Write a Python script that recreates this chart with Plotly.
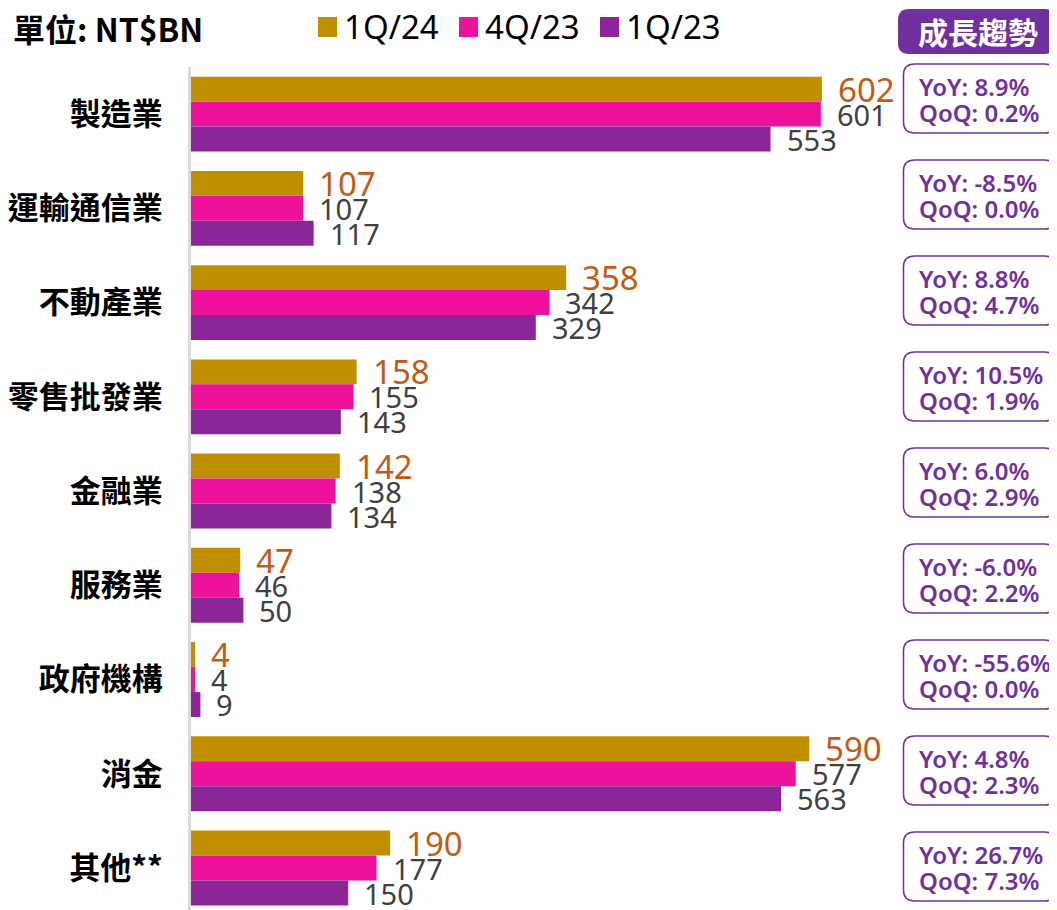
import plotly.graph_objects as go

categories = ["製造業", "運輸通信業", "不動產業", "零售批發業", "金融業", "服務業", "政府機構", "消金", "其他**"]
series_names = ["1Q/24", "4Q/23", "1Q/23"]
q1_24 = [602, 107, 358, 158, 142, 47, 4, 590, 190]
q4_23 = [601, 107, 342, 155, 138, 46, 4, 577, 177]
q1_23 = [553, 117, 329, 143, 134, 50, 9, 563, 150]
yoy = ["8.9%", "-8.5%", "8.8%", "10.5%", "6.0%", "-6.0%", "-55.6%", "4.8%", "26.7%"]
qoq = ["0.2%", "0.0%", "4.7%", "1.9%", "2.9%", "2.2%", "0.0%", "2.3%", "7.3%"]
unit_label = "單位: NT$BN"
trend_label = "成長趨勢"

colors = ["#BF8F00", "#EE1199", "#8B2699"]
label_colors = ["#C55A11", "#404040", "#404040"]
purple = "#7030A0"
LAT = "Noto Sans, Noto Sans CJK TC, sans-serif"
CJK = "Noto Sans CJK TC, Noto Sans, sans-serif"

OFF = 8  # page body margin
W_PX, H_PX = 1057 - OFF, 910 - OFF
L, T, R, B = 191 - OFF, 67 - OFF, 0, 0
PW = W_PX - L - R
PH = H_PX - T - B
BARGAP = 0.205
bw = (1 - BARGAP) / 3
PX_PER_UNIT = 1.048
GROUP_PX = 94.24


def px_x(px):
    return (px - OFF - L) / PW


def px_y(py):
    return (H_PX - B - (py - OFF)) / PH


def rrect(x0, y0, x1, y1, r):
    X0, X1 = px_x(x0), px_x(x1)
    Y0, Y1 = px_y(y0), px_y(y1)
    rx, ry = r / PW, r / PH
    return (f"M {X0+rx},{Y0} L {X1-rx},{Y0} Q {X1},{Y0} {X1},{Y0-ry} "
            f"L {X1},{Y1+ry} Q {X1},{Y1} {X1-rx},{Y1} L {X0+rx},{Y1} "
            f"Q {X0},{Y1} {X0},{Y1+ry} L {X0},{Y0-ry} Q {X0},{Y0} {X0+rx},{Y0} Z")


all_series = [q1_24, q4_23, q1_23]
fig = go.Figure()
for name, vals, col in zip(series_names, all_series, colors):
    fig.add_trace(go.Bar(
        y=categories, x=vals, orientation="h", name=name,
        marker=dict(color=col, line=dict(width=0)), showlegend=False,
    ))

annotations = []
for k, vals in enumerate(all_series):
    for i, v in enumerate(vals):
        annotations.append(dict(
            x=v, y=i + (k - 1) * bw, xref="x", yref="y", text=str(v),
            showarrow=False, xanchor="left", yanchor="middle", xshift=14,
            font=dict(family=LAT, size=33 if k == 0 else 29, color=label_colors[k]),
        ))

shapes = []
annotations.append(dict(x=px_x(11), y=px_y(28), xref="paper", yref="paper", text=f"<b>{unit_label}</b>",
                        showarrow=False, xanchor="left", yanchor="middle",
                        font=dict(family=CJK, size=32, color="black")))
leg_sq = [318, 459, 600]
for name, col, sx in zip(series_names, colors, leg_sq):
    shapes.append(dict(type="rect", xref="paper", yref="paper", x0=px_x(sx), x1=px_x(sx + 19),
                       y0=px_y(37), y1=px_y(17), fillcolor=col, line=dict(width=0)))
    annotations.append(dict(x=px_x(sx + 24), y=px_y(27), xref="paper", yref="paper", text=name,
                            showarrow=False, xanchor="left", yanchor="middle",
                            font=dict(family=LAT, size=33, color="black")))
shapes.append(dict(type="path", xref="paper", yref="paper", path=rrect(898, 9, 1056, 54, 11),
                   fillcolor=purple, line=dict(width=0)))
annotations.append(dict(x=px_x(978), y=px_y(31), xref="paper", yref="paper", text=f"<b>{trend_label}</b>",
                        showarrow=False, xanchor="center", yanchor="middle",
                        font=dict(family=CJK, size=30, color="white")))
for i in range(len(categories)):
    cy = 98.5 + 96 * i
    shapes.append(dict(type="path", xref="paper", yref="paper", path=rrect(903.5, cy - 34.5, 1055.5, cy + 34.5, 11),
                       fillcolor="white", line=dict(color=purple, width=1.5)))
    annotations.append(dict(x=px_x(917), y=px_y(cy - 12.5), xref="paper", yref="paper", text=f"YoY: {yoy[i]}",
                            showarrow=False, xanchor="left", yanchor="middle",
                            font=dict(family=LAT, size=24, color=purple, weight=600)))
    annotations.append(dict(x=px_x(917), y=px_y(cy + 14), xref="paper", yref="paper", text=f"QoQ: {qoq[i]}",
                            showarrow=False, xanchor="left", yanchor="middle",
                            font=dict(family=LAT, size=24, color=purple, weight=600)))

fig.update_layout(
    width=W_PX, height=H_PX,
    margin=dict(l=L, r=R, t=T, b=B, pad=0, autoexpand=False),
    barmode="group", bargap=BARGAP, bargroupgap=0,
    plot_bgcolor="white", paper_bgcolor="white",
    xaxis=dict(range=[0, PW / PX_PER_UNIT], visible=False, fixedrange=True, automargin=False),
    yaxis=dict(range=[PH / GROUP_PX - 0.5, -0.5],
               type="category", showgrid=False, zeroline=False, automargin=False,
               showline=True, linecolor="#D9D9D9", linewidth=3,
               ticks="", ticklabelstandoff=19,
               tickfont=dict(family=CJK, size=31, color="black")),
    shapes=shapes, annotations=annotations,
    showlegend=False,
)
fig.update_yaxes(tickvals=list(range(len(categories))), ticktext=[f"<b>{c}</b>" for c in categories])

fig.write_html("out.html")
